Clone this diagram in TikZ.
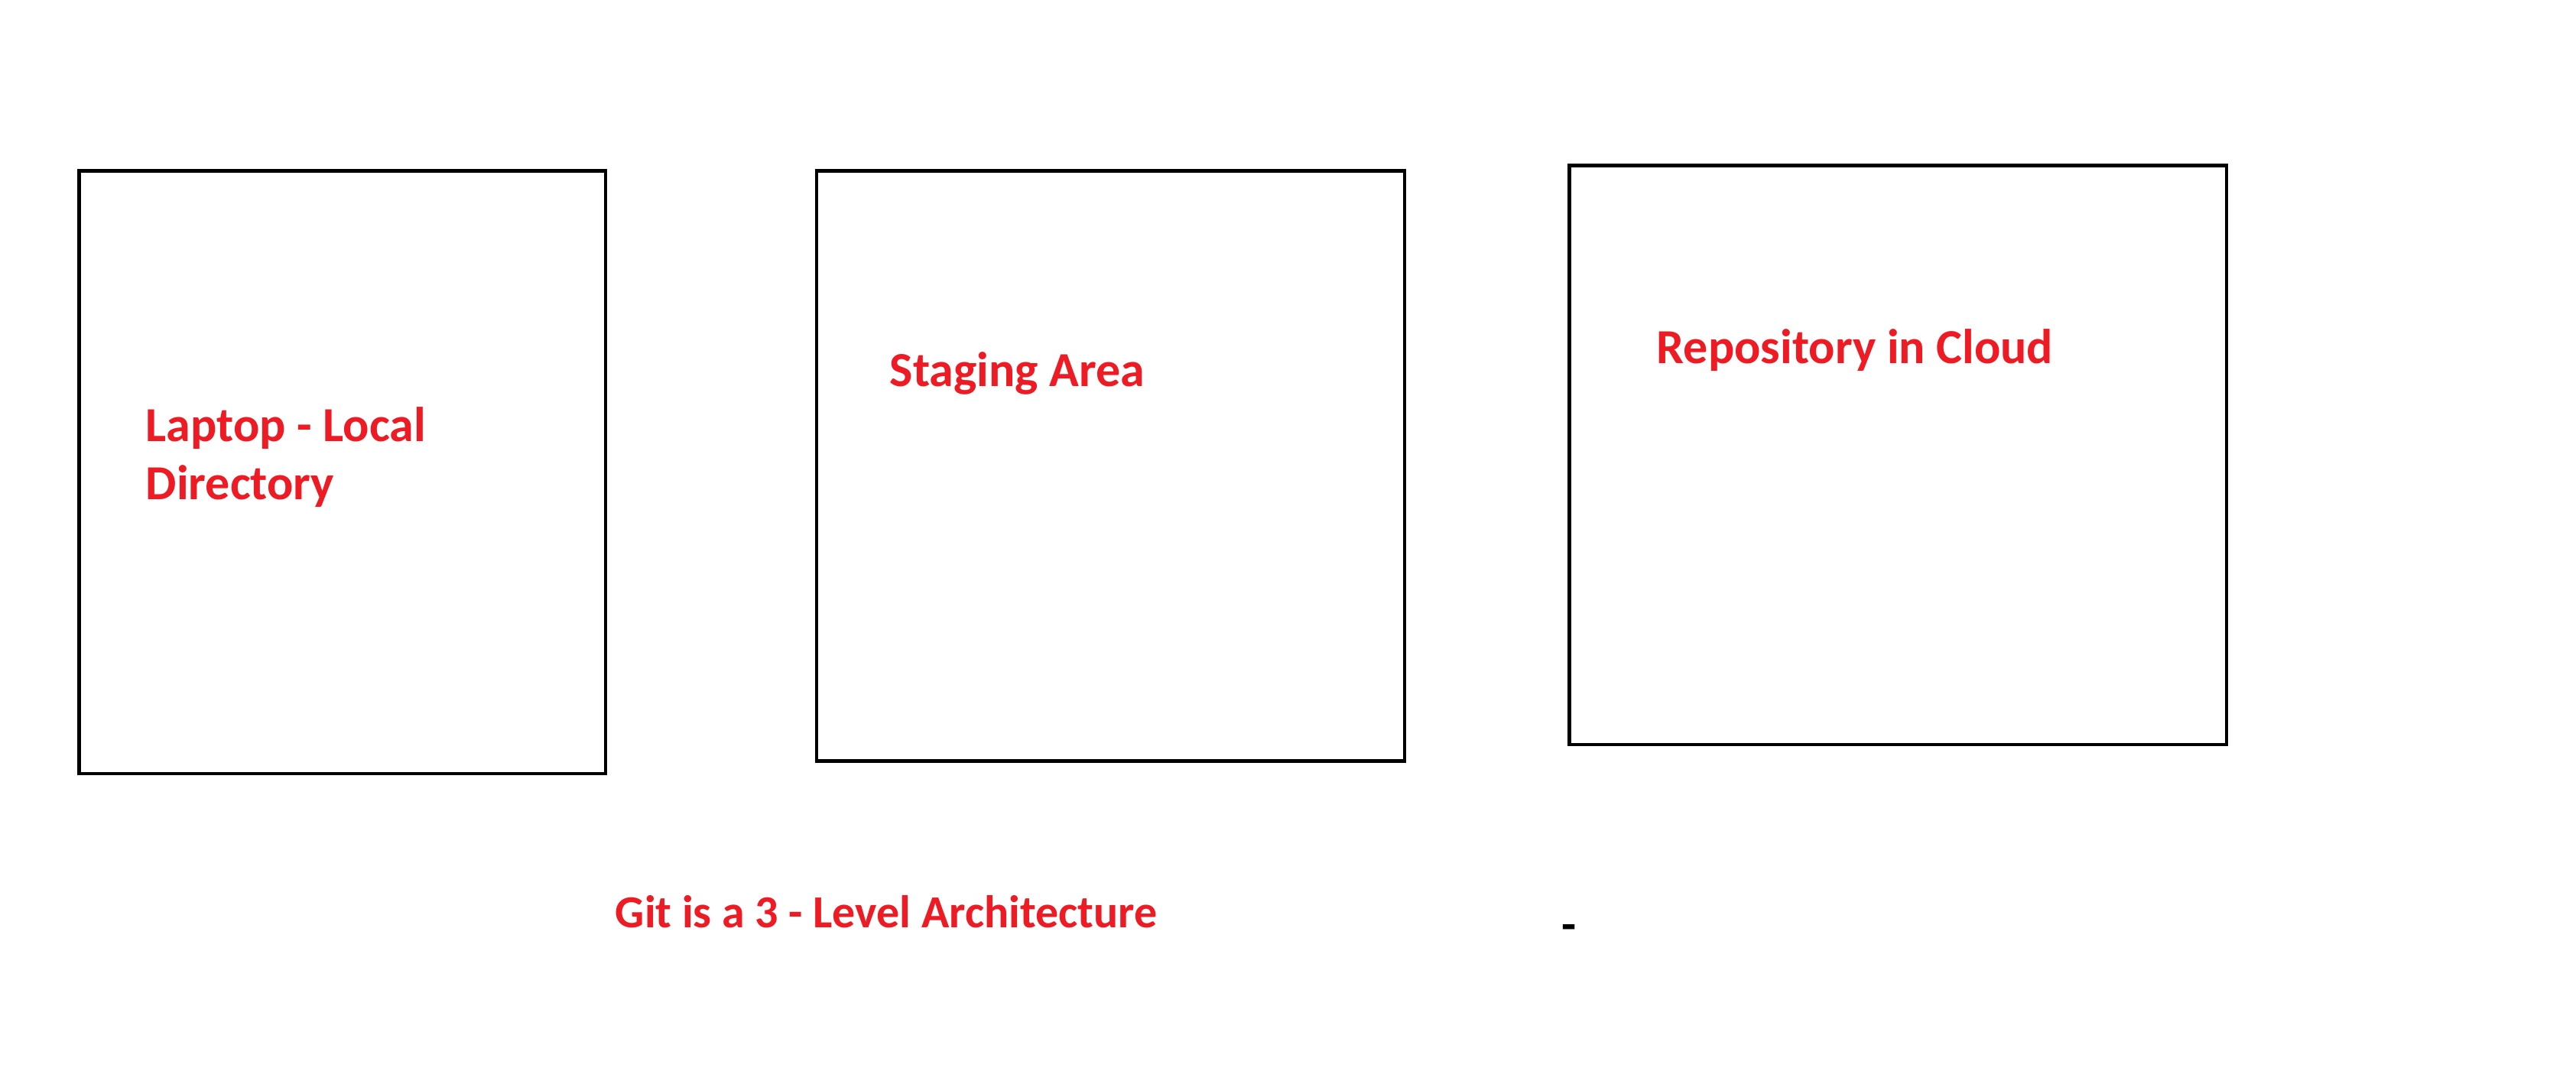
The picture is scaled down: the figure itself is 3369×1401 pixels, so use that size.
\documentclass[tikz,border=0pt]{standalone}
\usepackage{fontspec}
\setmainfont{Carlito}
\definecolor{lblred}{RGB}{237,28,36}
\begin{document}
\begin{tikzpicture}[x=0.25pt,y=-0.25pt,
  panel/.style={draw=black,line width=1.2pt,rectangle,inner sep=0pt},
  lbl/.style={text=lblred,font=\bfseries\fontsize{16pt}{19pt}\selectfont,inner sep=0pt,anchor=base west,align=left},
  caplbl/.style={text=lblred,font=\bfseries\fontsize{15pt}{18pt}\selectfont,inner sep=0pt,anchor=base west},
  dashmark/.style={text=black,font=\bfseries\fontsize{15.6pt}{19pt}\selectfont,inner sep=0pt,anchor=base west}]
\useasboundingbox[fill=white] (0,0) rectangle (3369,1401);
\node[panel,minimum width=172.1pt,minimum height=197.1pt] (local) at (447.75,617.75) {};
\node[panel,minimum width=192.25pt,minimum height=193pt] (staging) at (1452.5,609.5) {};
\node[panel,minimum width=214.9pt,minimum height=189.4pt] (cloud) at (2482.25,595.25) {};
\node[lbl] (localtxt) at (190,653) {Laptop - Local\\Directory};
\node[lbl] (stagtxt) at (1163,505) {Staging Area};
\node[lbl] (cloudtxt) at (2166,475) {Repository in Cloud};
\node[caplbl] (caption) at (804,1213) {Git is a 3 - Level Architecture};
\node[dashmark] (dash) at (2042,1230) {-};
\end{tikzpicture}
\end{document}
